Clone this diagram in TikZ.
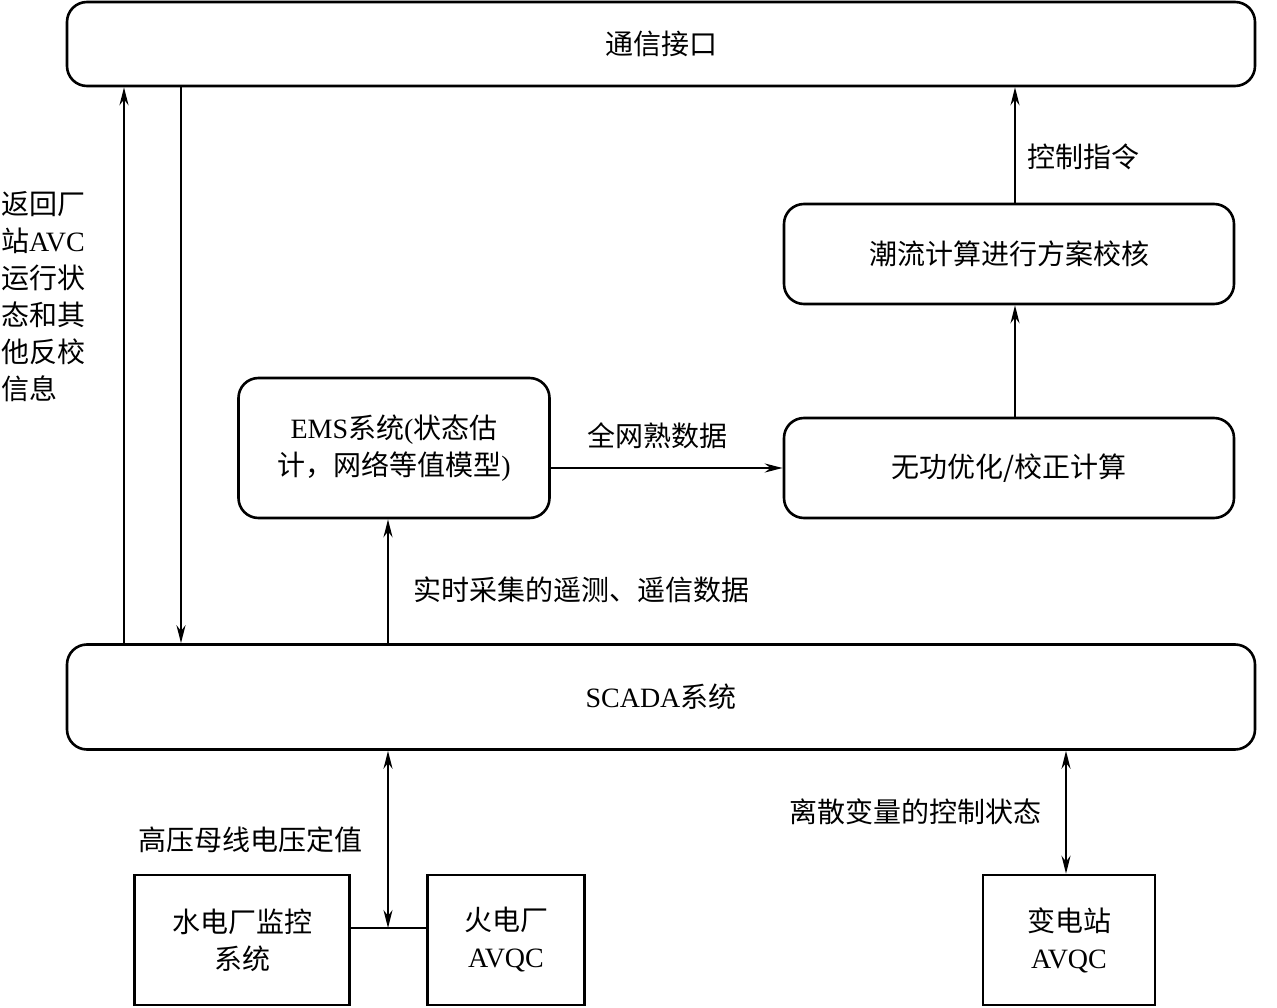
\documentclass[tikz,border=0pt]{standalone}
\usepackage{fontspec}
\setmainfont{Liberation Serif}
\newfontfamily\cjk{Noto Sans CJK SC}
\usetikzlibrary{arrows.meta}
\newcommand\zh[1]{{\cjk #1}}
\tikzset{
    block/.style={draw, line width=2.6pt, rounded corners=20pt, align=center}, % 圆角框
    plain box/.style={draw, line width=2.6pt, align=center}, % 直角框
    arr/.style={line width=1.8pt, -{Stealth[length=18pt, width=9pt]}},
    biarr/.style={line width=1.8pt, {Stealth[length=18pt, width=9pt]}-{Stealth[length=18pt, width=9pt]}},
    lbl/.style={inner sep=0pt, align=left}
}
\begin{document}
\begin{tikzpicture}[x=1pt, y=-1pt, font=\fontsize{28}{37}\selectfont]
    \clip (0,0) rectangle (1277,1008);
    \fill[white] (0,0) rectangle (1277,1008);

    % 方框
    \node[block, minimum width=1188pt, minimum height=84pt] (comm) at (661,44) {\zh{通信接口}};
    \node[block, minimum width=450pt, minimum height=100pt] (flow) at (1009,254) {\zh{潮流计算进行方案校核}};
    \node[block, minimum width=311pt, minimum height=140pt] (ems) at (394,448) {EMS\zh{系统}(\zh{状态估}\\\zh{计，网络等值模型})};
    \node[block, minimum width=450pt, minimum height=100pt] (opt) at (1009,468) {\zh{无功优化/校正计算}};
    \node[block, minimum width=1188pt, minimum height=105pt] (scada) at (661,697) {SCADA\zh{系统}};
    \node[plain box, minimum width=215pt, minimum height=130pt] (hydro) at (242,940) {\zh{水电厂监控}\\\zh{系统}};
    \node[plain box, minimum width=157pt, minimum height=130pt] (thermal) at (506,940) {\zh{火电厂}\\AVQC};
    \node[plain box, minimum width=172pt, minimum height=130pt] (subst) at (1069,940) {\zh{变电站}\\AVQC};

    % 连线
    \coordinate (up) at (124,0);
    \coordinate (down) at (181,0);
    \coordinate (right) at (1015,0);
    \coordinate (jn) at (388,928);
    \draw[arr] (scada.north -| up) -- (comm.south -| up);
    \draw[arr] (comm.south -| down) -- (scada.north -| down);
    \draw[arr] (scada.north -| jn) -- (ems.south -| jn);
    \draw[arr] (ems.east |- opt.west) -- (opt.west);
    \draw[arr] (opt.north -| right) -- (flow.south -| right);
    \draw[arr] (flow.north -| right) -- (comm.south -| right);
    \draw[line width=1.8pt] (hydro.east |- jn) -- (thermal.west |- jn);
    \draw[biarr] (scada.south -| jn) -- (jn);
    \draw[biarr] (scada.south -| 1066,0) -- (subst.north -| 1066,0);

    % 标注
    \node[lbl, anchor=north west] (back) at (1,191) {\zh{返回厂}\\\zh{站}AVC\\\zh{运行状}\\\zh{态和其}\\\zh{他反校}\\\zh{信息}};
    \node[lbl] (cmd) at (1083,157) {\zh{控制指令}};
    \node[lbl] (data) at (657,436) {\zh{全网熟数据}};
    \node[lbl] (meas) at (581,590) {\zh{实时采集的遥测、遥信数据}};
    \node[lbl] (volt) at (250,840) {\zh{高压母线电压定值}};
    \node[lbl] (disc) at (915,812) {\zh{离散变量的控制状态}};
\end{tikzpicture}
\end{document}
